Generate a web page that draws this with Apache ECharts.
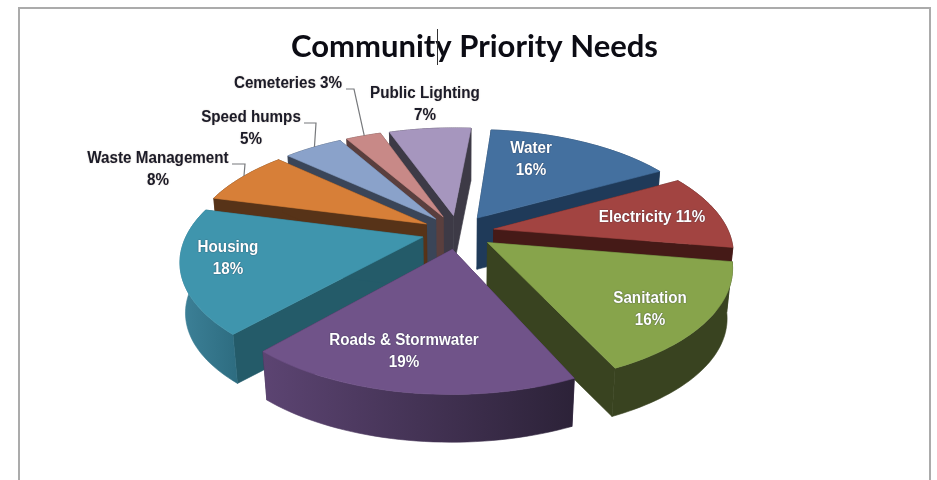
<!DOCTYPE html>
<html>
<head>
<meta charset="utf-8">
<style>html,body{margin:0;padding:0;background:#fff}#chart{width:937px;height:480px}</style>
<script src="https://cdn.jsdelivr.net/npm/echarts@6/dist/echarts.min.js"></script>
</head>
<body>
<div id="chart"></div>
<script>
// Slice data, clockwise from the top of the pie.
const categories = ['Water', 'Electricity', 'Sanitation', 'Roads & Stormwater', 'Housing',
  'Waste Management', 'Speed humps', 'Cemeteries', 'Public Lighting'];
const shares = [16, 11, 16, 19, 18, 8, 5, 3, 7];

// Slice styling.
const topColors = ['#44709f', '#a24441', '#87a44b', '#705389', '#3f95ad', '#d77f38', '#8aa2ca', '#c88987', '#a696be'];
const wallColors = ['#1f3a59', '#451a17', '#394320', '#392a4a', '#245b69', '#573318', '#3a4558', '#5a3f3e', '#3d3a46'];
const arcFrom = ['#1f3a59', '#451a17', '#394320', '#5c4472', '#3d8198', '#573318', '#3a4558', '#5a3f3e', '#3d3a46'];
const arcTo = ['#1f3a59', '#451a17', '#394320', '#2c2238', '#2d6c80', '#573318', '#3a4558', '#5a3f3e', '#3d3a46'];

// Back-to-front painting sequence of the slices.
const paintOrder = [8, 7, 6, 5, 0, 1, 4, 2, 3];

// Label layout: centre of each text block, and the elbow of its leader if it has one.
const labelCentres = [[531, 160], [652, 218], [650, 310], [404, 352], [228, 259], [158, 170], [251, 129], [288, 84], [425, 105]];
const labelBreaks = [null, null, null, null, null, [[232, 164], [245, 164]], [[304, 123], [316, 123]], [[346, 89], [354, 89]], null];
const labelInside = [true, true, true, true, true, false, false, false, false];
const oneLine = [false, true, false, false, false, false, false, true, false];

// Projection of the tilted pie onto the page.
const view = { cx: 458, cy: 232, rx: 235, ry: 110, persp: 0.19, explode: 0.155, height: 51, shrink: 0.98, turn: 5 };

const total = shares.reduce((a, b) => a + b, 0);
const bounds = [view.turn];
shares.forEach(v => bounds.push(bounds[bounds.length - 1] + v / total * 360));

function rad(d) { return d * Math.PI / 180; }

// Maps a pie-plane point to the page; lower=true gives the matching point on the underside.
function project(u, v, lower) {
  const s = 1 / (1 + view.persp * v);
  let x = view.cx + view.rx * u * s;
  let y = view.cy - view.ry * v * s;
  if (lower) {
    x = view.cx + (x - view.cx) * view.shrink;
    y = view.cy + (y - view.cy) * view.shrink + view.height;
  }
  return [x, y];
}

function slicePoint(i, angle, r, lower) {
  const mid = rad((bounds[i] + bounds[i + 1]) / 2);
  const a = rad(angle);
  return project(view.explode * Math.sin(mid) + r * Math.sin(a),
                 view.explode * Math.cos(mid) + r * Math.cos(a), lower);
}

function arcPoints(i, lower) {
  const pts = [];
  const n = 40;
  for (let k = 0; k <= n; k++) {
    pts.push(slicePoint(i, bounds[i] + (bounds[i + 1] - bounds[i]) * k / n, 1, lower));
  }
  return pts;
}

function renderSlice(params, api) {
  const i = api.value(0);
  const rank = paintOrder.indexOf(i);
  const apexTop = slicePoint(i, bounds[i], 0, false);
  const apexLow = slicePoint(i, bounds[i], 0, true);
  const upper = arcPoints(i, false);
  const lowerPts = arcPoints(i, true);
  const first = upper[0], last = upper[upper.length - 1];
  const firstLow = lowerPts[0], lastLow = lowerPts[lowerPts.length - 1];
  const base = rank * 10;
  const poly = (points, fill, z) => ({
    type: 'polygon', z2: base + z, shape: { points },
    style: { fill, stroke: fill, lineWidth: 0.6 }
  });
  const arcFill = new echarts.graphic.LinearGradient(0, 0, 1, 0, [
    { offset: 0, color: arcFrom[i] }, { offset: 1, color: arcTo[i] }
  ]);
  const children = [
    poly([apexTop, first, firstLow, apexLow], wallColors[i], 0),
    poly([apexTop, last, lastLow, apexLow], wallColors[i], 1),
    poly(upper.concat(lowerPts.slice().reverse()), arcFill, 2),
    poly([apexTop].concat(upper), topColors[i], 3)
  ];

  // Leader from the label to the middle of the slice rim.
  if (labelBreaks[i]) {
    const rim = upper[Math.round(upper.length / 2)];
    children.push({
      type: 'polyline', z2: 200,
      shape: { points: labelBreaks[i].concat([rim]) },
      style: { stroke: '#77797c', lineWidth: 1.2, fill: null }
    });
  }

  // Category and share text, slightly condensed.
  const sep = oneLine[i] ? ' ' : '\n';
  children.push({
    type: 'text', z2: 300,
    x: labelCentres[i][0], y: labelCentres[i][1], scaleX: 0.95,
    style: {
      x: 0, y: 0,
      text: categories[i] + sep + api.value(1) + '%',
      font: 'bold 16px "Liberation Sans Narrow", "Liberation Sans", sans-serif',
      lineHeight: 22,
      align: 'center', verticalAlign: 'middle',
      fill: labelInside[i] ? '#ffffff' : '#1b1b28',
      textShadowColor: labelInside[i] ? 'rgba(20,25,50,0.7)' : 'rgba(120,90,60,0.35)',
      textShadowBlur: 1.5
    }
  });
  return { type: 'group', children };
}

const chart = echarts.init(document.getElementById('chart'), null, { renderer: 'canvas' });
chart.setOption({
  animation: false,
  backgroundColor: '#ffffff',
  title: {
    text: 'Community Priority Needs',
    left: 469.5, top: 26, textAlign: 'center',
    textStyle: { fontFamily: 'Lato', fontWeight: 'bold', fontSize: 31, color: '#0c0c14' }
  },
  graphic: [
    // Frame of the page, open at the bottom.
    { type: 'polyline', shape: { points: [[19, 480], [19, 8], [930, 8], [930, 480]] },
      style: { stroke: '#ababab', lineWidth: 2, fill: null } },
    // Text caret standing in the title.
    { type: 'line', shape: { x1: 437.5, y1: 29, x2: 437.5, y2: 65 }, z: 10,
      style: { stroke: '#333', lineWidth: 1 } }
  ],
  series: [{
    type: 'custom',
    coordinateSystem: 'none',
    renderItem: renderSlice,
    silent: true,
    data: paintOrder.map(i => [i, shares[i]])
  }]
});
</script>
</body>
</html>
